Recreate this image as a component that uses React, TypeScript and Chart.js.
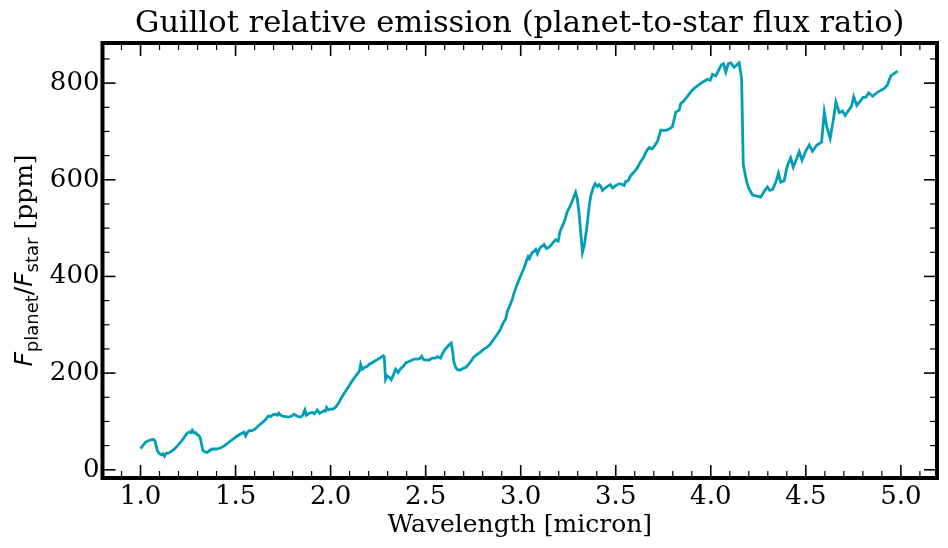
import React, { useEffect, useRef } from 'react';
import { Chart, registerables } from 'chart.js';

Chart.register(...registerables);

const wavelength: number[] = [
  1.000, 1.012, 1.026, 1.040, 1.055, 1.068, 1.076, 1.082, 1.088, 1.098,
  1.111, 1.118, 1.126, 1.135, 1.149, 1.162, 1.176, 1.193, 1.211, 1.228,
  1.246, 1.258, 1.266, 1.272, 1.281, 1.290, 1.300, 1.307, 1.314, 1.319,
  1.328, 1.340, 1.351, 1.364, 1.377, 1.399, 1.421, 1.443, 1.465, 1.485,
  1.505, 1.522, 1.535, 1.545, 1.553, 1.562, 1.571, 1.588, 1.605, 1.618,
  1.632, 1.645, 1.658, 1.672, 1.685, 1.698, 1.711, 1.720, 1.728, 1.738,
  1.746, 1.763, 1.781, 1.795, 1.807, 1.816, 1.830, 1.842, 1.852, 1.865,
  1.872, 1.888, 1.904, 1.915, 1.930, 1.942, 1.952, 1.965, 1.972, 1.979,
  1.988, 2.000, 2.010, 2.018, 2.030, 2.044, 2.060, 2.079, 2.096, 2.114,
  2.130, 2.146, 2.152, 2.158, 2.167, 2.180, 2.193, 2.202, 2.220, 2.246,
  2.262, 2.277, 2.282, 2.289, 2.298, 2.307, 2.319, 2.330, 2.342, 2.355,
  2.370, 2.383, 2.395, 2.412, 2.425, 2.439, 2.456, 2.468, 2.479, 2.488,
  2.505, 2.518, 2.535, 2.550, 2.562, 2.579, 2.588, 2.600, 2.611, 2.625,
  2.635, 2.642, 2.649, 2.658, 2.667, 2.680, 2.693, 2.711, 2.730, 2.755,
  2.775, 2.789, 2.805, 2.825, 2.840, 2.860, 2.878, 2.895, 2.908, 2.921,
  2.930, 2.945, 2.956, 2.965, 2.978, 2.992, 3.005, 3.018, 3.028, 3.039,
  3.046, 3.053, 3.062, 3.070, 3.079, 3.088, 3.096, 3.105, 3.115, 3.123,
  3.135, 3.146, 3.158, 3.170, 3.184, 3.197, 3.207, 3.220, 3.232, 3.240,
  3.246, 3.257, 3.267, 3.280, 3.289, 3.298, 3.307, 3.316, 3.325, 3.335,
  3.351, 3.360, 3.368, 3.380, 3.392, 3.404, 3.413, 3.422, 3.430, 3.445,
  3.458, 3.471, 3.483, 3.500, 3.518, 3.535, 3.544, 3.553, 3.565, 3.579,
  3.596, 3.614, 3.630, 3.649, 3.663, 3.676, 3.693, 3.707, 3.720, 3.737,
  3.755, 3.772, 3.785, 3.798, 3.816, 3.834, 3.842, 3.855, 3.868, 3.882,
  3.895, 3.912, 3.930, 3.948, 3.965, 3.983, 3.997, 4.009, 4.026, 4.040,
  4.056, 4.067, 4.079, 4.092, 4.105, 4.123, 4.135, 4.149, 4.162, 4.171,
  4.188, 4.200, 4.219, 4.233, 4.246, 4.263, 4.281, 4.298, 4.310, 4.325,
  4.342, 4.356, 4.368, 4.386, 4.400, 4.407, 4.420, 4.434, 4.450, 4.465,
  4.480, 4.500, 4.518, 4.535, 4.558, 4.583, 4.597, 4.610, 4.628, 4.645,
  4.658, 4.676, 4.693, 4.707, 4.722, 4.740, 4.752, 4.768, 4.785, 4.800,
  4.816, 4.830, 4.851, 4.865, 4.877, 4.898, 4.913, 4.930, 4.947, 4.965,
  4.983,
];

const flux: number[] = [
  44, 50, 57, 60, 62, 63, 60, 50, 40, 34,
  31, 33, 28, 34, 35, 38, 42, 49, 57, 66,
  76, 78, 77, 82, 76, 77, 72, 71, 66, 57,
  40, 37, 36, 40, 43, 43, 45, 50, 57, 63,
  69, 73, 76, 78, 70, 77, 81, 81, 85, 90,
  95, 99, 104, 111, 110, 114, 115, 113, 117, 113,
  111, 110, 109, 111, 115, 113, 110, 109, 112, 124,
  113, 117, 119, 116, 124, 117, 119, 122, 121, 129,
  124, 126, 125, 127, 131, 140, 151, 163, 173, 184,
  193, 201, 205, 218, 208, 212, 214, 218, 222, 228,
  232, 236, 234, 187, 194, 192, 186, 196, 208, 201,
  210, 214, 221, 224, 226, 229, 229, 230, 235, 228,
  227, 227, 231, 231, 234, 231, 240, 248, 253, 259,
  262, 245, 222, 212, 207, 206, 209, 212, 220, 234,
  240, 244, 249, 254, 260, 271, 281, 292, 304, 312,
  328, 342, 353, 366, 380, 394, 406, 418, 430, 441,
  437, 444, 450, 452, 456, 447, 455, 461, 463, 466,
  458, 460, 464, 470, 476, 473, 493, 505, 516, 528,
  535, 543, 552, 565, 574, 560, 531, 490, 450, 465,
  511, 545, 566, 582, 592, 586, 590, 586, 578, 583,
  587, 590, 583, 588, 592, 590, 588, 597, 598, 609,
  616, 625, 637, 648, 660, 667, 664, 672, 680, 703,
  702, 703, 706, 710, 740, 744, 758, 762, 768, 775,
  782, 789, 794, 800, 804, 808, 806, 818, 815, 826,
  838, 840, 823, 840, 842, 833, 837, 842, 810, 631,
  597, 582, 569, 567, 566, 564, 576, 585, 578, 580,
  595, 614, 595, 598, 625, 633, 645, 626, 642, 658,
  640, 660, 672, 659, 672, 678, 740, 710, 686, 725,
  761, 739, 742, 733, 742, 752, 772, 754, 762, 770,
  771, 780, 773, 777, 781, 786, 789, 797, 815, 820,
  825,
];

const xMajorTicks: number[] = [1.0, 1.5, 2.0, 2.5, 3.0, 3.5, 4.0, 4.5, 5.0];
const xMinorTicks: number[] = [
  0.9, 1.1, 1.2, 1.3, 1.4, 1.6, 1.7, 1.8, 1.9, 2.1, 2.2, 2.3, 2.4,
  2.6, 2.7, 2.8, 2.9, 3.1, 3.2, 3.3, 3.4, 3.6, 3.7, 3.8, 3.9, 4.1,
  4.2, 4.3, 4.4, 4.6, 4.7, 4.8, 4.9, 5.1,
];
const yMajorTicks: number[] = [0, 200, 400, 600, 800];
const yMinorTicks: number[] = [50, 100, 150, 250, 300, 350, 450, 500, 550, 650, 700, 750, 850];

const titleText = 'Guillot relative emission (planet-to-star flux ratio)';
const xLabelText = 'Wavelength [micron]';

const SERIF = '"DejaVu Serif", serif';
const SANS = '"DejaVu Sans", sans-serif';
const LINE_COLOR = '#009fb7';

const frameTicksPlugin = {
  id: 'frameTicks',
  afterDraw(chart: any) {
    const { ctx, chartArea: a, scales } = chart;
    const xs = scales.x;
    const ys = scales.y;
    ctx.save();
    ctx.strokeStyle = '#000';
    ctx.lineCap = 'butt';
    const seg = (x1: number, y1: number, x2: number, y2: number) => {
      ctx.beginPath();
      ctx.moveTo(x1, y1);
      ctx.lineTo(x2, y2);
      ctx.stroke();
    };
    const MAJ = 13;
    const MIN = 7;
    ctx.lineWidth = 1.2;
    for (const v of xMinorTicks) {
      const p = xs.getPixelForValue(v);
      seg(p, a.bottom, p, a.bottom - MIN);
      seg(p, a.top, p, a.top + MIN);
    }
    for (const v of yMinorTicks) {
      const p = ys.getPixelForValue(v);
      seg(a.left, p, a.left + MIN, p);
      seg(a.right, p, a.right - MIN, p);
    }
    ctx.lineWidth = 1.6;
    for (const v of xMajorTicks) {
      const p = xs.getPixelForValue(v);
      seg(p, a.bottom, p, a.bottom - MAJ);
      seg(p, a.top, p, a.top + MAJ);
    }
    for (const v of yMajorTicks) {
      const p = ys.getPixelForValue(v);
      seg(a.left, p, a.left + MAJ, p);
      seg(a.right, p, a.right - MAJ, p);
    }
    ctx.lineWidth = 4;
    ctx.strokeRect(a.left, a.top, a.right - a.left, a.bottom - a.top);

    // y-axis label with subscripts
    const big = 25;
    const small = 18;
    const drop = 6;
    const parts = [
      { t: 'F', f: `italic ${big}px ${SANS}`, dy: 0 },
      { t: 'planet', f: `${small}px ${SANS}`, dy: drop },
      { t: '/', f: `${big}px ${SANS}`, dy: 0 },
      { t: 'F', f: `italic ${big}px ${SANS}`, dy: 0 },
      { t: 'star', f: `${small}px ${SANS}`, dy: drop },
      { t: ' [ppm]', f: `${big}px ${SERIF}`, dy: 0 },
    ];
    let total = 0;
    const widths: number[] = [];
    for (const p of parts) {
      ctx.font = p.f;
      const w = ctx.measureText(p.t).width;
      widths.push(w);
      total += w;
    }
    const cy = (a.top + a.bottom) / 2;
    ctx.translate(32, cy);
    ctx.rotate(-Math.PI / 2);
    ctx.fillStyle = '#000';
    ctx.textBaseline = 'alphabetic';
    ctx.textAlign = 'left';
    let x = -total / 2;
    parts.forEach((p, i) => {
      ctx.font = p.f;
      ctx.fillText(p.t, x, p.dy);
      x += widths[i];
    });
    ctx.restore();
  },
};

export default function App() {
  const canvasRef = useRef<HTMLCanvasElement | null>(null);

  useEffect(() => {
    document.body.style.margin = '0';
    const canvas = canvasRef.current;
    if (!canvas) return;
    const points = wavelength.map((w, i) => ({ x: w, y: flux[i] }));
    const chart = new Chart(canvas, {
      type: 'line',
      data: {
        datasets: [
          {
            data: points,
            borderColor: LINE_COLOR,
            borderWidth: 2.8,
            pointRadius: 0,
            tension: 0,
            fill: false,
          },
        ],
      },
      options: {
        animation: false,
        responsive: false,
        devicePixelRatio: 1,
        layout: { padding: { left: 0, right: 11, top: 0, bottom: 0 } },
        plugins: {
          legend: { display: false },
          tooltip: { enabled: false },
          title: {
            display: true,
            text: titleText,
            fullSize: false,
            color: '#000',
            font: { family: SERIF, size: 30.5, weight: 'normal' as any, lineHeight: 1.2 },
            padding: { top: 5.5, bottom: 0.9 },
          },
        },
        scales: {
          x: {
            type: 'linear',
            min: 0.8,
            max: 5.19,
            grid: { display: false, drawTicks: false },
            border: { display: false },
            afterBuildTicks: (scale: any) => {
              scale.ticks = xMajorTicks.map((v) => ({ value: v }));
            },
            afterFit: (scale: any) => {
              scale.height = 70;
            },
            ticks: {
              color: '#000',
              padding: 4,
              maxRotation: 0,
              autoSkip: false,
              font: { family: SERIF, size: 26 },
              callback: (v: any) => Number(v).toFixed(1),
            },
            title: {
              display: true,
              text: xLabelText,
              color: '#000',
              font: { family: SERIF, size: 25, lineHeight: 1.2 },
              padding: { top: 0, bottom: 8 },
            },
          },
          y: {
            type: 'linear',
            min: -17,
            max: 883,
            grid: { display: false, drawTicks: false },
            border: { display: false },
            afterBuildTicks: (scale: any) => {
              scale.ticks = yMajorTicks.map((v) => ({ value: v }));
            },
            afterFit: (scale: any) => {
              scale.width = 102.5;
            },
            ticks: {
              color: '#000',
              padding: 3,
              autoSkip: false,
              font: { family: SERIF, size: 26 },
              callback: (v: any) => String(v),
            },
          },
        },
      },
      plugins: [frameTicksPlugin],
    });
    return () => chart.destroy();
  }, []);

  return (
    <div style={{ width: 948, height: 548, background: '#fff' }}>
      <canvas ref={canvasRef} width={948} height={548} style={{ display: 'block' }} />
    </div>
  );
}
